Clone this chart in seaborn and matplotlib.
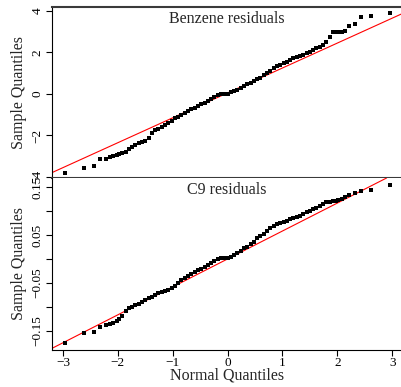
import matplotlib
matplotlib.use("Agg")
import matplotlib.pyplot as plt
import seaborn as sns
import pandas as pd

# Theoretical normal quantiles (shared by both panels, same sample size)
normal_q = [-2.97, -2.62, -2.44, -2.32, -2.22, -2.15, -2.08, -2.02, -1.97, -1.92,
            -1.86, -1.80, -1.74, -1.68, -1.62, -1.56, -1.50, -1.44, -1.38, -1.32,
            -1.26, -1.20, -1.14, -1.08, -1.02, -0.96, -0.90, -0.84, -0.78, -0.72,
            -0.66, -0.60, -0.54, -0.48, -0.42, -0.36, -0.30, -0.24, -0.18, -0.12,
            -0.06, 0.00, 0.06, 0.12, 0.18, 0.24, 0.30, 0.36, 0.42, 0.48,
            0.54, 0.60, 0.66, 0.72, 0.78, 0.84, 0.90, 0.96, 1.02, 1.08,
            1.14, 1.20, 1.26, 1.32, 1.38, 1.44, 1.50, 1.56, 1.62, 1.68,
            1.74, 1.80, 1.86, 1.92, 1.97, 2.02, 2.08, 2.15, 2.22, 2.32,
            2.44, 2.62, 2.97]

benzene_q = [-3.81, -3.57, -3.47, -3.13, -3.13, -3.05, -3.00, -2.96, -2.90, -2.85,
             -2.78, -2.67, -2.57, -2.47, -2.38, -2.31, -2.25, -2.12, -1.88, -1.76,
             -1.67, -1.60, -1.52, -1.42, -1.29, -1.18, -1.09, -1.03, -0.94, -0.82,
             -0.74, -0.67, -0.57, -0.50, -0.43, -0.35, -0.25, -0.15, -0.05, 0.00,
             0.00, 0.02, 0.07, 0.14, 0.21, 0.30, 0.38, 0.47, 0.55, 0.61,
             0.70, 0.79, 0.89, 1.00, 1.13, 1.26, 1.35, 1.41, 1.47, 1.55,
             1.63, 1.71, 1.77, 1.83, 1.89, 1.95, 2.02, 2.14, 2.22, 2.27,
             2.36, 2.48, 2.75, 3.00, 3.00, 3.00, 3.00, 3.01, 3.28, 3.36,
             3.70, 3.77, 3.90]

c9_q = [-0.175, -0.154, -0.152, -0.142, -0.138, -0.136, -0.134, -0.129, -0.125, -0.119,
        -0.109, -0.102, -0.100, -0.097, -0.093, -0.090, -0.085, -0.082, -0.080, -0.075,
        -0.071, -0.069, -0.067, -0.064, -0.061, -0.056, -0.050, -0.043, -0.039, -0.035,
        -0.032, -0.028, -0.024, -0.020, -0.016, -0.012, -0.008, -0.004, -0.001, 0.001,
        0.002, 0.003, 0.005, 0.009, 0.013, 0.017, 0.022, 0.026, 0.031, 0.036,
        0.043, 0.048, 0.053, 0.058, 0.064, 0.069, 0.074, 0.076, 0.077, 0.080,
        0.083, 0.086, 0.087, 0.090, 0.094, 0.098, 0.101, 0.104, 0.106, 0.110,
        0.114, 0.118, 0.119, 0.120, 0.121, 0.123, 0.126, 0.130, 0.133, 0.1375,
        0.142, 0.144, 0.154]

# reference lines (intercept, slope)
benzene_line = (0.05, 1.20)
c9_line = (0.0, 0.0583)

titles = ["Benzene residuals", "C9 residuals"]
benzene_ticks = [-4, -2, 0, 2, 4]
benzene_ticklabels = ["\u22124", "\u22122", "0", "2", "4"]
c9_ticks = [-0.15, -0.10, -0.05, 0.00, 0.05, 0.10, 0.15]
c9_ticklabels = ["\u22120.15", "", "\u22120.05", "", "0.05", "", "0.15"]
x_ticks = [-3, -2, -1, 0, 1, 2, 3]
x_ticklabels = ["\u22123", "\u22122", "\u22121", "0", "1", "2", "3"]

sns.set_theme(style="white")
plt.rcParams["font.family"] = ["Liberation Serif", "DejaVu Serif"]

fig = plt.figure(figsize=(4.02, 3.87), dpi=100)
ax_top = fig.add_axes([52 / 402, 1 - 178 / 387, 350 / 402, 171 / 387])
ax_bot = fig.add_axes([52 / 402, 1 - 350 / 387, 350 / 402, 172 / 387])

df_top = pd.DataFrame({"x": normal_q, "y": benzene_q})
df_bot = pd.DataFrame({"x": normal_q, "y": c9_q})

for ax, df, line, title in [(ax_top, df_top, benzene_line, titles[0]),
                            (ax_bot, df_bot, c9_line, titles[1])]:
    ax.axline((0, line[0]), slope=line[1], color="red", lw=0.8, zorder=2)
    sns.scatterplot(data=df, x="x", y="y", ax=ax, marker="s", s=12, color="black",
                    linewidth=0, zorder=3)
    ax.set_xlim(-3.2, 3.18)
    ax.text(0.5, 0.975, title, transform=ax.transAxes, ha="center", va="top",
            fontsize=11.5)
    ax.set_xlabel("")
    ax.set_ylabel("Sample Quantiles", fontsize=11.5, labelpad=3)
    ax.spines["right"].set_visible(False)
    ax.spines["left"].set_color("black")
    ax.spines["left"].set_linewidth(0.8)
    ax.tick_params(axis="y", direction="out", length=4, width=0.8, left=True,
                   labelsize=9.5, pad=2, colors="black")

ax_top.set_ylim(-4.05, 4.19)
ax_top.set_yticks(benzene_ticks)
ax_top.set_yticklabels(benzene_ticklabels, rotation=90, va="center")
ax_top.set_xticks([])
ax_top.spines["top"].set_color("#3a3a3a")
ax_top.spines["top"].set_linewidth(1.5)
ax_top.spines["bottom"].set_color("#3a3a3a")
ax_top.spines["bottom"].set_linewidth(1.5)

ax_bot.set_ylim(-0.19, 0.169)
ax_bot.set_yticks(c9_ticks)
ax_bot.set_yticklabels(c9_ticklabels, rotation=90, va="center")
ax_bot.spines["top"].set_visible(False)
ax_bot.spines["bottom"].set_color("black")
ax_bot.spines["bottom"].set_linewidth(0.8)
ax_bot.set_xticks(x_ticks)
ax_bot.set_xticklabels(x_ticklabels)
ax_bot.tick_params(axis="x", direction="out", length=4, width=0.8, bottom=True,
                   labelsize=9.5, pad=1, colors="black")
ax_bot.set_xlabel("Normal Quantiles", fontsize=11.5, labelpad=-1)

fig.savefig("out.png", dpi=100)
